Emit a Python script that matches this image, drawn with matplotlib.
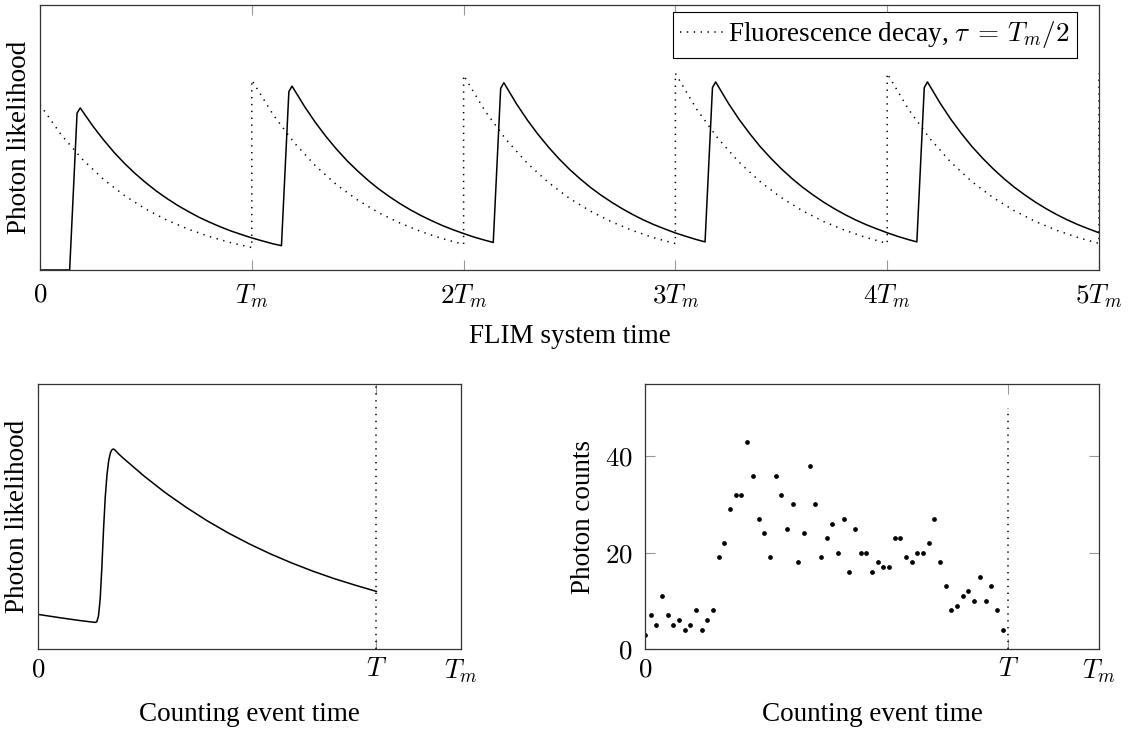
import numpy as np
import matplotlib
matplotlib.use('Agg')
import matplotlib.pyplot as plt

plt.rcParams['font.family'] = 'serif'
plt.rcParams['font.serif'] = ['Liberation Serif', 'DejaVu Serif']
plt.rcParams['mathtext.fontset'] = 'cm'

FS = 19.5

# ---- top panel data (time in units of Tm) ----
period_starts = [0, 1, 2, 3, 4]
tick_labels_top = ['$0$', '$T_m$', '$2T_m$', '$3T_m$', '$4T_m$', '$5T_m$']

# fluorescence decay, sampled every 0.1 Tm inside each period
decay_offsets = [0.0, 0.1, 0.2, 0.3, 0.4, 0.5, 0.6, 0.7, 0.8, 0.9, 1.0]
decay_vals = [
    [0.870, 0.712, 0.583, 0.477, 0.391, 0.320, 0.262, 0.215, 0.176, 0.144, 0.118],
    [1.000, 0.819, 0.670, 0.549, 0.449, 0.368, 0.301, 0.247, 0.202, 0.165, 0.135],
    [1.025, 0.839, 0.687, 0.563, 0.461, 0.377, 0.309, 0.253, 0.207, 0.169, 0.139],
    [1.035, 0.847, 0.694, 0.568, 0.465, 0.381, 0.312, 0.255, 0.209, 0.171, 0.140],
    [1.035, 0.847, 0.694, 0.568, 0.465, 0.381, 0.312, 0.255, 0.209, 0.171, 0.140],
]
decay_last = 1.035  # next pulse at 5Tm

# photon likelihood (solid), start of curve then one row per period
lik_start_t = [0.0]
lik_start_y = [0.0]
lik_offsets = [0.14, 0.175, 0.19, 0.25, 0.30, 0.35, 0.40, 0.45, 0.50, 0.55, 0.60,
               0.65, 0.70, 0.75, 0.80, 0.85, 0.90, 0.95, 1.00, 1.05, 1.10]
lik_vals = [
    [0.000, 0.826, 0.853, 0.757, 0.685, 0.619, 0.560, 0.507, 0.459, 0.415, 0.376,
     0.340, 0.308, 0.278, 0.252, 0.228, 0.206, 0.187, 0.169, 0.153, 0.138],
    [0.128, 0.939, 0.968, 0.859, 0.777, 0.703, 0.636, 0.575, 0.521, 0.471, 0.426,
     0.386, 0.349, 0.316, 0.286, 0.259, 0.234, 0.212, 0.192, 0.173, 0.157],
    [0.145, 0.956, 0.986, 0.874, 0.791, 0.716, 0.648, 0.586, 0.530, 0.480, 0.434,
     0.393, 0.356, 0.322, 0.291, 0.263, 0.238, 0.216, 0.195, 0.177, 0.160],
    [0.148, 0.960, 0.990, 0.878, 0.794, 0.719, 0.650, 0.589, 0.533, 0.482, 0.436,
     0.395, 0.357, 0.323, 0.292, 0.264, 0.239, 0.217, 0.196, 0.177, 0.160],
    [0.148, 0.960, 0.990, 0.878, 0.794, 0.719, 0.650, 0.589, 0.533, 0.482, 0.436,
     0.395, 0.357, 0.323, 0.292, 0.264, 0.239, 0.217, 0.196, 0.177, 0.160],
]

# ---- bottom left: one period of the likelihood ----
T_end = 0.8
single_t = [0.0, 0.05, 0.10, 0.135, 0.139, 0.143, 0.147, 0.151, 0.155, 0.159, 0.163,
            0.167, 0.171, 0.175, 0.178, 0.182, 0.19, 0.20, 0.25, 0.30, 0.35, 0.40,
            0.45, 0.50, 0.55, 0.60, 0.65, 0.70, 0.75, 0.80]
single_y = [0.173, 0.157, 0.142, 0.133, 0.136, 0.165, 0.25, 0.41, 0.60, 0.76, 0.87,
            0.94, 0.98, 0.997, 1.0, 0.995, 0.977, 0.957, 0.866, 0.783, 0.709, 0.641,
            0.580, 0.525, 0.475, 0.430, 0.389, 0.352, 0.319, 0.288]

# ---- bottom right: photon counts per bin ----
counts = [3, 7, 5, 11, 7, 5, 6, 4, 5, 8, 4, 6, 8, 19, 22, 29, 32, 32, 43, 36,
          27, 24, 19, 36, 32, 25, 30, 18, 24, 38, 30, 19, 23, 26, 20, 27, 16, 25,
          20, 20, 16, 18, 17, 17, 23, 23, 19, 18, 20, 20, 22, 27, 18, 13, 8, 9,
          11, 12, 10, 15, 10, 13, 8, 4]
n_bins = 64
bin_t = np.arange(len(counts)) * T_end / n_bins

dotted = (0, (0.9, 3.6))
W, H = 1136, 731
fig = plt.figure(figsize=(W / 100, H / 100), dpi=100)


def style(ax, pad):
    for s in ax.spines.values():
        s.set_color('0.2')
        s.set_linewidth(0.9)
    ax.tick_params(direction='in', length=7, width=0.8, color='0.6',
                   top=True, right=True, labelsize=FS, pad=pad)


# top
ax1 = fig.add_axes([40 / W, 1 - 270 / H, 1059 / W, 265 / H])
dx, dy = [], []
for k, row in zip(period_starts, decay_vals):
    dx += [k + o for o in decay_offsets]
    dy += row
dx.append(5.0)
dy.append(decay_last)
lx, ly = list(lik_start_t), list(lik_start_y)
for k, row in zip(period_starts, lik_vals):
    lx += [k + o for o in lik_offsets]
    ly += row
ax1.plot(lx, ly, color='black', lw=1.1)
ax1.plot(dx, dy, color='black', lw=1.1, linestyle=dotted,
         label='Fluorescence decay, $\\tau\\;=\\,T_m/2$')
ax1.set_xlim(0, 5)
ax1.set_ylim(0, 1.395)
ax1.set_xticks(range(6))
ax1.set_xticklabels(tick_labels_top)
ax1.set_yticks([])
style(ax1, 9)
ax1.set_xlabel('FLIM system time', fontsize=FS, labelpad=10)
ax1.set_ylabel('Photon likelihood', fontsize=FS, labelpad=6)
leg = ax1.legend(loc='upper right', bbox_to_anchor=(0.979, 0.974), borderaxespad=0,
                 fancybox=False, edgecolor='black', framealpha=1, fontsize=FS,
                 handlelength=1.6, handletextpad=0.15, borderpad=0.28)
leg.get_frame().set_linewidth(0.8)

# bottom left
ax2 = fig.add_axes([38 / W, 1 - 649 / H, 423 / W, 265 / H])
ax2.plot(single_t, single_y, color='black', lw=1.1)
ax2.axvline(T_end, color='black', lw=1.1, linestyle=dotted)
ax2.set_xlim(0, 1)
ax2.set_ylim(0, 1.325)
ax2.set_xticks([0, T_end, 1])
ax2.set_xticklabels(['$0$', '$T$', '$T_m$'])
ax2.set_yticks([])
style(ax2, 6)
ax2.set_xlabel('Counting event time', fontsize=FS, labelpad=12)
ax2.set_ylabel('Photon likelihood', fontsize=FS, labelpad=6)

# bottom right
ax3 = fig.add_axes([645 / W, 1 - 649 / H, 454 / W, 265 / H])
ax3.plot(bin_t, counts, 'o', color='black', markersize=2.4)
ax3.plot([T_end, T_end], [0, 50], color='black', lw=1.1, linestyle=dotted)
ax3.set_xlim(0, 1)
ax3.set_ylim(0, 55)
ax3.set_xticks([0, T_end, 1])
ax3.set_xticklabels(['$0$', '$T$', '$T_m$'])
ax3.set_yticks([0, 20, 40])
ax3.set_yticklabels(['$0$', '$20$', '$40$'])
style(ax3, 6)
ax3.tick_params(axis='y', pad=9)
ax3.set_xlabel('Counting event time', fontsize=FS, labelpad=12)
ax3.set_ylabel('Photon counts', fontsize=FS, labelpad=6)

fig.savefig('out.png', dpi=100)
